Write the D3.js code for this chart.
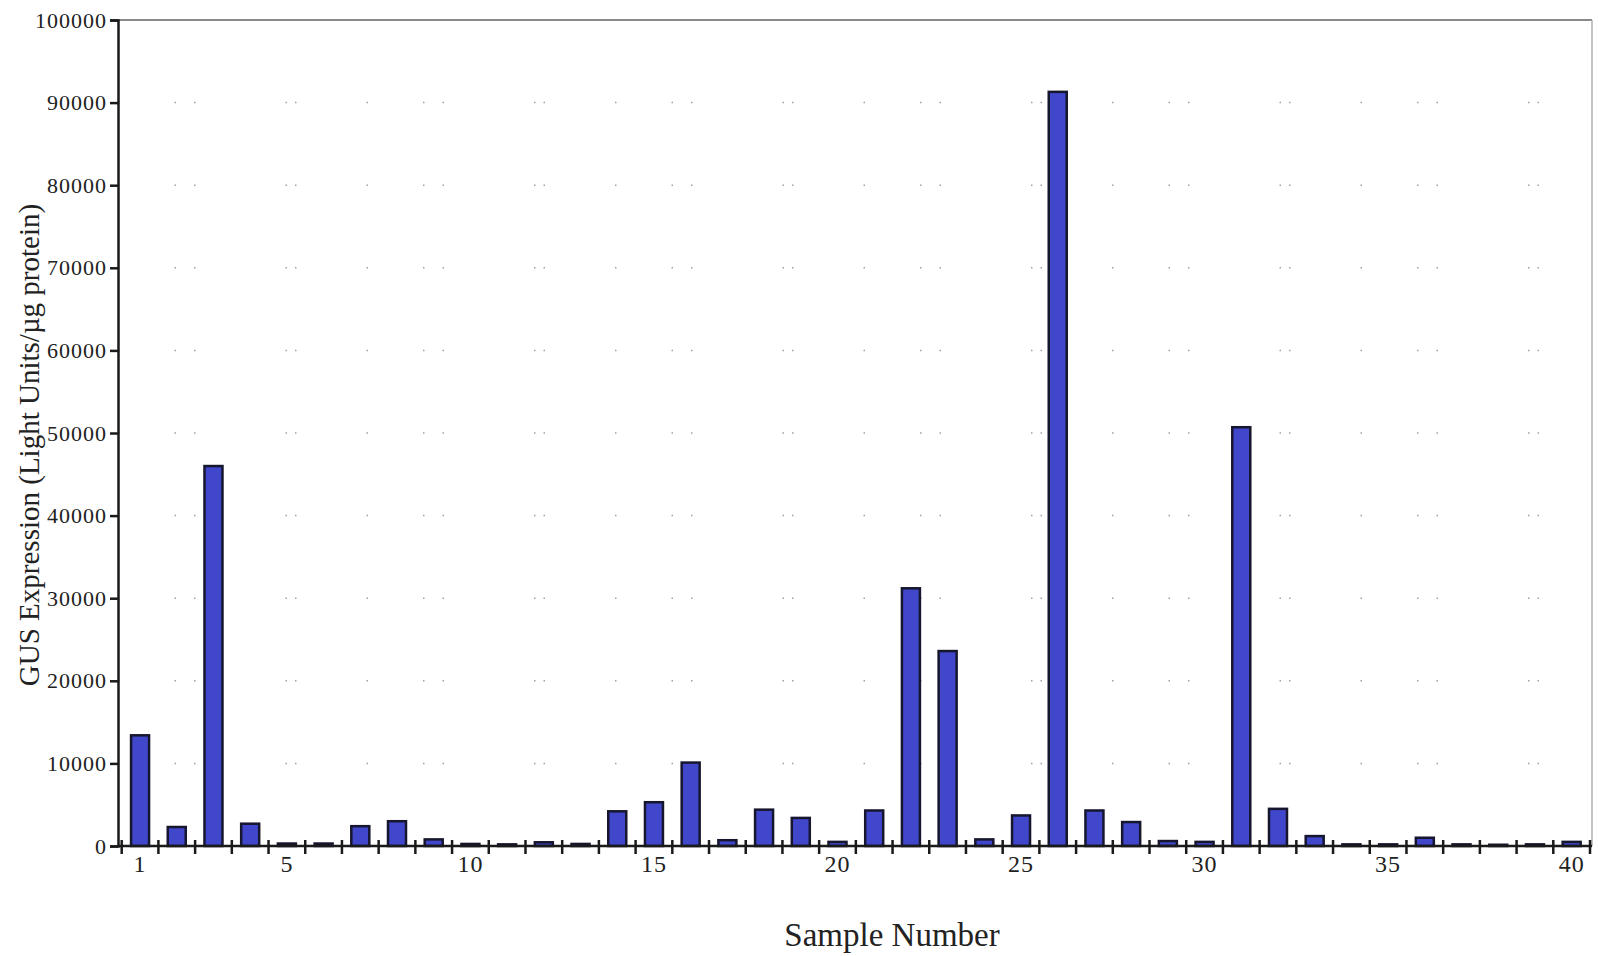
<!DOCTYPE html>
<html>
<head>
<meta charset="utf-8">
<script src="https://cdn.jsdelivr.net/npm/d3@7"></script>
<style>
  body { margin: 0; background: #fff; }
  text { font-family: "Liberation Serif", "Times New Roman", serif; fill: #222; }
</style>
</head>
<body>
<svg id="plot" width="1598" height="956"></svg>
<script>
// sample numbers 1..40 and GUS expression
var samples = d3.range(1, 41);
var gusValues = [13400, 2300, 46000, 2700, 300, 300, 2400, 3000, 800, 250,
                 200, 450, 250, 4200, 5300, 10100, 700, 4400, 3400, 500,
                 4300, 31200, 23600, 800, 3700, 91300, 4300, 2900, 600, 500,
                 50700, 4500, 1200, 200, 200, 1000, 200, 150, 200, 500];
var yTicks = d3.range(0, 100001, 10000);
var xLabels = [1, 5, 10, 15, 20, 25, 30, 35, 40];

// plot parameters
var plotLeft = 118, plotTop = 20, plotRight = 1592, plotBottom = 846;
var barWidth = 18;

var svg = d3.select("#plot");

var xScale = d3.scaleLinear()
               .domain([0.5, 40.5])
               .range([121.7, 1590]);

var yScale = d3.scaleLinear()
               .domain([0, 100000])
               .range([plotBottom, plotTop]);

// dotted grid lines
svg.append("g")
   .selectAll("line")
   .data(yTicks.filter(function(d){ return d > 0 && d < 100000; }))
   .enter()
   .append("line")
   .attr("x1", plotLeft)
   .attr("x2", plotRight)
   .attr("y1", function(d){ return yScale(d); })
   .attr("y2", function(d){ return yScale(d); })
   .attr("stroke", "#a0a0a0")
   .attr("stroke-width", 1.5)
   .attr("stroke-dasharray", "1.5 55 1.5 18 1.5 90 1.5 8 1.5 70");

// top and right frame
svg.append("line")
   .attr("x1", plotLeft).attr("x2", plotRight)
   .attr("y1", plotTop).attr("y2", plotTop)
   .attr("stroke", "#8a8a8a").attr("stroke-width", 2);
svg.append("line")
   .attr("x1", plotRight).attr("x2", plotRight)
   .attr("y1", plotTop).attr("y2", plotBottom)
   .attr("stroke", "#b0b0b0").attr("stroke-width", 1.5);

// bars
svg.append("g")
   .selectAll("rect")
   .data(gusValues)
   .enter()
   .append("rect")
   .attr("x", function(d, i){ return xScale(samples[i]) - barWidth / 2; })
   .attr("y", function(d){ return yScale(d); })
   .attr("width", barWidth)
   .attr("height", function(d){ return plotBottom - yScale(d); })
   .attr("fill", "#4047cb")
   .attr("stroke", "#16162e")
   .attr("stroke-width", 2.5);

// y axis
var yAxis = d3.axisLeft(yScale)
              .tickValues(yTicks)
              .tickSize(8)
              .tickPadding(3)
              .tickFormat(d3.format("d"));

var gy = svg.append("g")
            .attr("transform", "translate(" + plotLeft + ",0)")
            .call(yAxis);
gy.select(".domain").attr("stroke", "#1a1a1a").attr("stroke-width", 2.5);
gy.selectAll(".tick line").attr("stroke", "#1a1a1a").attr("stroke-width", 2.5);
gy.selectAll(".tick text")
  .attr("font-family", "Liberation Serif, serif")
  .attr("font-size", "22px")
  .attr("letter-spacing", "1px")
  .attr("fill", "#222");

// x axis line
svg.append("line")
   .attr("x1", plotLeft).attr("x2", plotRight)
   .attr("y1", plotBottom).attr("y2", plotBottom)
   .attr("stroke", "#1a1a1a").attr("stroke-width", 2.5);

// crossing ticks between the bars
svg.append("g")
   .selectAll("line")
   .data(d3.range(0.5, 41, 1))
   .enter()
   .append("line")
   .attr("x1", function(d){ return xScale(d); })
   .attr("x2", function(d){ return xScale(d); })
   .attr("y1", plotBottom - 6)
   .attr("y2", plotBottom + 8)
   .attr("stroke", "#1a1a1a")
   .attr("stroke-width", 2.5);

// x labels
svg.append("g")
   .selectAll("text")
   .data(xLabels)
   .enter()
   .append("text")
   .text(function(d){ return d; })
   .attr("x", function(d){ return xScale(d); })
   .attr("y", 872)
   .attr("text-anchor", "middle")
   .attr("font-size", "24px")
   .attr("letter-spacing", "1px");

// axis titles
svg.append("text")
   .text("Sample Number")
   .attr("x", 892)
   .attr("y", 946)
   .attr("text-anchor", "middle")
   .attr("font-size", "33px");

svg.append("text")
   .text("GUS Expression (Light Units/µg protein)")
   .attr("transform", "translate(39,445) rotate(-90)")
   .attr("text-anchor", "middle")
   .attr("font-size", "29px");
</script>
</body>
</html>
